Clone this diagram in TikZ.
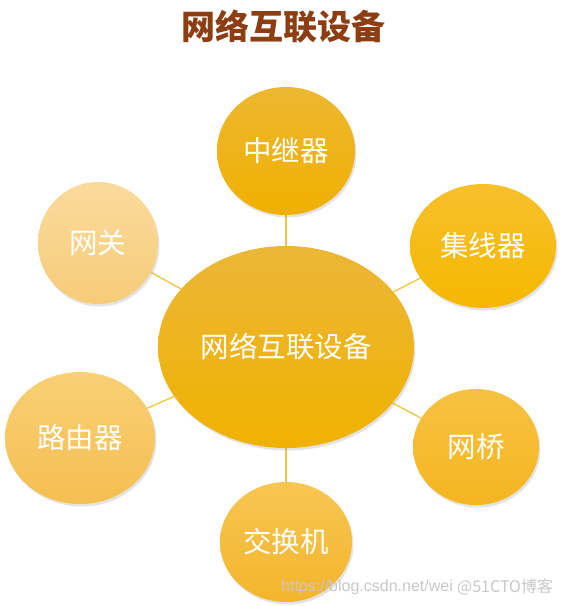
\documentclass[tikz,border=0pt]{standalone}
\usepackage{fontspec}
\setmainfont{Noto Sans CJK SC}
\newfontfamily\cjk{Noto Sans CJK SC}
\newfontfamily\wmfont{Liberation Sans}
\usetikzlibrary{shapes.geometric,shadows,backgrounds}
\definecolor{titlebrown}{RGB}{140,62,18}
\definecolor{linkcol}{RGB}{242,196,64}
\definecolor{wmgray}{RGB}{200,200,200}
\tikzset{
  bubble/.style={ellipse, inner sep=0pt, text=white,
    font=\cjk\fontsize{28.5}{28.5}\selectfont,
    drop shadow={opacity=0.22, shadow xshift=1.5pt, shadow yshift=-2.5pt}},
  link/.style={draw=linkcol, line width=1.3pt},
  wm/.style={text=wmgray, inner sep=0pt, anchor=west}
}
\begin{document}
\begin{tikzpicture}[x=1pt,y=-1pt]
\useasboundingbox (0,0) rectangle (562,606);
\node[font=\cjk\bfseries\fontsize{34}{34}\selectfont, text=titlebrown] (title) at (283,27) {网络互联设备};

\node[bubble, minimum width=256pt, minimum height=202pt, top color={rgb,255:red,236;green,182;blue,56}, bottom color={rgb,255:red,240;green,178;blue,0}] (c) at (286,347) {网络互联设备};

\node[bubble, minimum width=138pt, minimum height=128pt, top color={rgb,255:red,237;green,183;blue,50}, bottom color={rgb,255:red,240;green,176;blue,0}] (zj) at (286,151) {中继器};
\node[bubble, minimum width=146pt, minimum height=124pt, top color={rgb,255:red,247;green,192;blue,44}, bottom color={rgb,255:red,245;green,184;blue,0}] (jx) at (483,246) {集线器};
\node[bubble, minimum width=120pt, minimum height=122pt, top color={rgb,255:red,250;green,218;blue,156}, bottom color={rgb,255:red,247;green,204;blue,120}] (wg) at (98,243) {网关};
\node[bubble, minimum width=150pt, minimum height=132pt, top color={rgb,255:red,249;green,208;blue,118}, bottom color={rgb,255:red,245;green,190;blue,80}] (ly) at (80,438) {路由器};
\node[bubble, minimum width=126pt, minimum height=116pt, top color={rgb,255:red,247;green,194;blue,66}, bottom color={rgb,255:red,245;green,181;blue,32}] (wq) at (476,447) {网桥};
\node[bubble, minimum width=132pt, minimum height=120pt, top color={rgb,255:red,248;green,198;blue,82}, bottom color={rgb,255:red,243;green,181;blue,44}] (jh) at (286,542) {交换机};

\begin{scope}[on background layer]
  \draw[link] (c) -- (zj);
  \draw[link] (c) -- (jx);
  \draw[link] (c) -- (wg);
  \draw[link] (c) -- (ly);
  \draw[link] (c) -- (wq);
  \draw[link] (c) -- (jh);
\end{scope}

\node[wm, font=\wmfont\fontsize{16}{16}\selectfont] (wm1) at (281,587) {https://blog.csdn.net/wei};
\node[wm, font=\cjk\fontsize{16}{16}\selectfont] (wm2) at (457,587) {@51CTO博客};
\end{tikzpicture}
\end{document}
